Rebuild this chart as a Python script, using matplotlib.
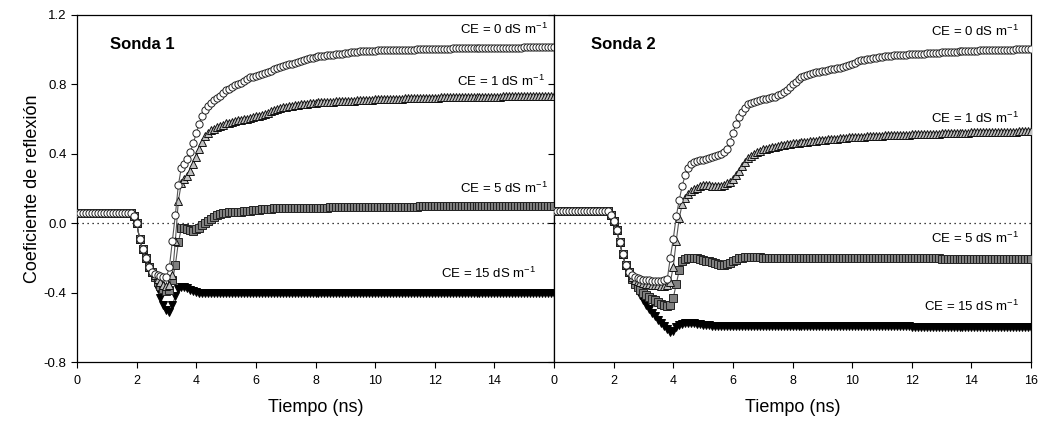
import numpy as np
import matplotlib
matplotlib.use("Agg")
import matplotlib.pyplot as plt

plt.rcParams['font.family'] = ['Liberation Sans', 'DejaVu Sans']
plt.rcParams['mathtext.fontset'] = 'custom'
plt.rcParams['mathtext.rm'] = 'Liberation Sans'
plt.rcParams['mathtext.it'] = 'Liberation Sans:italic'

# sampling grid (ns)
tiempo = np.round(np.arange(0, 16.05, 0.1), 1)

# ---- Sonda 1 ----
s1_ce0 = [
    0.06, 0.06, 0.06, 0.06, 0.06, 0.06, 0.06, 0.06, 0.06, 0.06,
    0.06, 0.06, 0.06, 0.06, 0.06, 0.06, 0.06, 0.06, 0.06, 0.04,
    0.00, -0.09, -0.15, -0.20, -0.25, -0.28, -0.29, -0.30, -0.305, -0.31,
    -0.31, -0.25, -0.10, 0.05, 0.22, 0.32, 0.34, 0.37, 0.41, 0.46,
    0.52, 0.57, 0.62, 0.65, 0.675, 0.695, 0.71, 0.72, 0.735, 0.75,
    0.765, 0.775, 0.785, 0.795, 0.80, 0.81, 0.82, 0.83, 0.84, 0.845,
    0.85, 0.856, 0.862, 0.868, 0.874, 0.88, 0.886, 0.892, 0.898, 0.904,
    0.91, 0.915, 0.92, 0.925, 0.93, 0.935, 0.94, 0.945, 0.95, 0.955,
    0.96, 0.962, 0.964, 0.966, 0.968, 0.970, 0.972, 0.974, 0.976, 0.978,
    0.98, 0.982, 0.984, 0.986, 0.988, 0.99, 0.991, 0.992, 0.993, 0.994,
    0.995, 0.996, 0.996, 0.997, 0.997, 0.998, 0.998, 0.999, 0.999, 1.0,
    1.0, 1.0, 1.001, 1.001, 1.002, 1.002, 1.003, 1.003, 1.004, 1.004,
    1.005, 1.005, 1.005, 1.006, 1.006, 1.006, 1.007, 1.007, 1.007, 1.008,
    1.008, 1.008, 1.008, 1.009, 1.009, 1.009, 1.009, 1.010, 1.010, 1.010,
    1.010, 1.011, 1.011, 1.011, 1.011, 1.012, 1.012, 1.012, 1.012, 1.012,
    1.013, 1.013, 1.013, 1.013, 1.014, 1.014, 1.014, 1.014, 1.015, 1.015,
    1.015]
s1_ce1 = [
    0.06, 0.06, 0.06, 0.06, 0.06, 0.06, 0.06, 0.06, 0.06, 0.06,
    0.06, 0.06, 0.06, 0.06, 0.06, 0.06, 0.06, 0.06, 0.06, 0.04,
    0.00, -0.09, -0.15, -0.20, -0.25, -0.28, -0.30, -0.32, -0.34, -0.355,
    -0.36, -0.355, -0.30, -0.10, 0.13, 0.23, 0.255, 0.27, 0.30, 0.34,
    0.38, 0.43, 0.47, 0.50, 0.52, 0.535, 0.545, 0.553, 0.56, 0.568,
    0.575, 0.58, 0.584, 0.588, 0.592, 0.595, 0.60, 0.603, 0.606, 0.61,
    0.615, 0.62, 0.626, 0.632, 0.638, 0.644, 0.65, 0.656, 0.662, 0.667,
    0.671, 0.674, 0.677, 0.68, 0.683, 0.685, 0.687, 0.689, 0.691, 0.693,
    0.695, 0.696, 0.697, 0.698, 0.699, 0.700, 0.701, 0.702, 0.703, 0.704,
    0.705, 0.706, 0.707, 0.707, 0.708, 0.709, 0.710, 0.711, 0.712, 0.712,
    0.713, 0.714, 0.714, 0.715, 0.715, 0.716, 0.716, 0.717, 0.717, 0.718,
    0.719, 0.719, 0.720, 0.720, 0.721, 0.721, 0.722, 0.722, 0.723, 0.723,
    0.724, 0.724, 0.725, 0.725, 0.725, 0.726, 0.726, 0.726, 0.727, 0.727,
    0.727, 0.728, 0.728, 0.728, 0.728, 0.729, 0.729, 0.729, 0.729, 0.730,
    0.730, 0.730, 0.730, 0.731, 0.731, 0.731, 0.731, 0.731, 0.732, 0.732,
    0.732, 0.732, 0.732, 0.732, 0.733, 0.733, 0.733, 0.733, 0.733, 0.733,
    0.733]
s1_ce5 = [
    0.06, 0.06, 0.06, 0.06, 0.06, 0.06, 0.06, 0.06, 0.06, 0.06,
    0.06, 0.06, 0.06, 0.06, 0.06, 0.06, 0.06, 0.06, 0.06, 0.04,
    0.00, -0.09, -0.15, -0.20, -0.25, -0.28, -0.31, -0.34, -0.36, -0.38,
    -0.39, -0.385, -0.33, -0.24, -0.11, -0.03, -0.03, -0.035, -0.04, -0.045,
    -0.035, -0.025, -0.01, 0.00, 0.015, 0.025, 0.035, 0.045, 0.055, 0.06,
    0.060, 0.062, 0.064, 0.065, 0.066, 0.067, 0.068, 0.070, 0.072, 0.074,
    0.076, 0.078, 0.080, 0.082, 0.083, 0.084, 0.085, 0.086, 0.087, 0.087,
    0.088, 0.088, 0.088, 0.089, 0.089, 0.089, 0.089, 0.090, 0.090, 0.090,
    0.090, 0.090, 0.090, 0.090, 0.090, 0.091, 0.091, 0.091, 0.091, 0.091,
    0.092, 0.092, 0.092, 0.092, 0.092, 0.093, 0.093, 0.093, 0.093, 0.093,
    0.094, 0.094, 0.094, 0.094, 0.094, 0.095, 0.095, 0.095, 0.095, 0.095,
    0.096, 0.096, 0.096, 0.096, 0.096, 0.097, 0.097, 0.097, 0.097, 0.097,
    0.097, 0.098, 0.098, 0.098, 0.098, 0.098, 0.098, 0.098, 0.099, 0.099,
    0.099, 0.099, 0.099, 0.099, 0.099, 0.099, 0.100, 0.100, 0.100, 0.100,
    0.100, 0.100, 0.100, 0.100, 0.100, 0.100, 0.100, 0.100, 0.100, 0.100,
    0.100, 0.100, 0.100, 0.100, 0.100, 0.100, 0.100, 0.100, 0.100, 0.100,
    0.100]
s1_ce15 = [
    0.06, 0.06, 0.06, 0.06, 0.06, 0.06, 0.06, 0.06, 0.06, 0.06,
    0.06, 0.06, 0.06, 0.06, 0.06, 0.06, 0.06, 0.06, 0.06, 0.04,
    0.00, -0.09, -0.15, -0.20, -0.25, -0.29, -0.33, -0.38, -0.43, -0.47,
    -0.50, -0.51, -0.47, -0.42, -0.38, -0.37, -0.37, -0.375, -0.385, -0.39,
    -0.395, -0.40, -0.40, -0.40, -0.40, -0.40, -0.40, -0.40, -0.40, -0.40,
    -0.40, -0.40, -0.40, -0.40, -0.40, -0.40, -0.40, -0.40, -0.40, -0.40,
    -0.40, -0.40, -0.40, -0.40, -0.40, -0.40, -0.40, -0.40, -0.40, -0.40,
    -0.40, -0.40, -0.40, -0.40, -0.40, -0.40, -0.40, -0.40, -0.40, -0.40,
    -0.40, -0.40, -0.40, -0.40, -0.40, -0.40, -0.40, -0.40, -0.40, -0.40,
    -0.40, -0.40, -0.40, -0.40, -0.40, -0.40, -0.40, -0.40, -0.40, -0.40,
    -0.40, -0.40, -0.40, -0.40, -0.40, -0.40, -0.40, -0.40, -0.40, -0.40,
    -0.40, -0.40, -0.40, -0.40, -0.40, -0.402, -0.402, -0.402, -0.402, -0.402,
    -0.402, -0.402, -0.402, -0.402, -0.402, -0.403, -0.403, -0.403, -0.403, -0.403,
    -0.403, -0.403, -0.403, -0.403, -0.403, -0.404, -0.404, -0.404, -0.404, -0.404,
    -0.404, -0.404, -0.404, -0.404, -0.404, -0.405, -0.405, -0.405, -0.405, -0.405,
    -0.405, -0.405, -0.405, -0.405, -0.405, -0.405, -0.405, -0.405, -0.405, -0.405,
    -0.405]

# ---- Sonda 2 ----
s2_ce0 = [
    0.07, 0.07, 0.07, 0.07, 0.07, 0.07, 0.07, 0.07, 0.07, 0.07,
    0.07, 0.07, 0.07, 0.07, 0.07, 0.07, 0.07, 0.07, 0.07, 0.05,
    0.01, -0.04, -0.11, -0.18, -0.24, -0.28, -0.30, -0.31, -0.315, -0.32,
    -0.325, -0.327, -0.33, -0.332, -0.334, -0.335, -0.335, -0.33, -0.32, -0.20,
    -0.09, 0.04, 0.135, 0.215, 0.28, 0.32, 0.34, 0.35, 0.357, 0.362,
    0.367, 0.372, 0.377, 0.382, 0.388, 0.395, 0.40, 0.41, 0.43, 0.47,
    0.52, 0.57, 0.61, 0.64, 0.665, 0.685, 0.695, 0.70, 0.705, 0.71,
    0.715, 0.718, 0.722, 0.725, 0.73, 0.737, 0.745, 0.757, 0.77, 0.785,
    0.80, 0.815, 0.83, 0.84, 0.85, 0.855, 0.86, 0.865, 0.87, 0.873,
    0.876, 0.88, 0.883, 0.887, 0.89, 0.893, 0.897, 0.902, 0.907, 0.912,
    0.918, 0.925, 0.932, 0.938, 0.943, 0.946, 0.949, 0.952, 0.955, 0.958,
    0.96, 0.962, 0.964, 0.966, 0.968, 0.969, 0.970, 0.971, 0.972, 0.973,
    0.974, 0.975, 0.976, 0.977, 0.978, 0.979, 0.980, 0.981, 0.982, 0.983,
    0.984, 0.985, 0.986, 0.987, 0.988, 0.989, 0.990, 0.991, 0.992, 0.993,
    0.994, 0.995, 0.995, 0.996, 0.996, 0.997, 0.997, 0.998, 0.998, 0.999,
    0.999, 1.0, 1.0, 1.001, 1.001, 1.002, 1.002, 1.003, 1.003, 1.004,
    1.004]
s2_ce1 = [
    0.07, 0.07, 0.07, 0.07, 0.07, 0.07, 0.07, 0.07, 0.07, 0.07,
    0.07, 0.07, 0.07, 0.07, 0.07, 0.07, 0.07, 0.07, 0.07, 0.05,
    0.01, -0.04, -0.11, -0.18, -0.24, -0.28, -0.31, -0.325, -0.335, -0.34,
    -0.345, -0.35, -0.352, -0.355, -0.357, -0.358, -0.36, -0.36, -0.355, -0.34,
    -0.25, -0.10, 0.03, 0.11, 0.145, 0.17, 0.185, 0.195, 0.205, 0.213,
    0.218, 0.22, 0.218, 0.215, 0.213, 0.212, 0.214, 0.22, 0.23, 0.24,
    0.255, 0.275, 0.30, 0.33, 0.355, 0.375, 0.39, 0.40, 0.41, 0.418,
    0.425, 0.429, 0.433, 0.437, 0.441, 0.445, 0.448, 0.451, 0.454, 0.457,
    0.46, 0.462, 0.464, 0.466, 0.468, 0.47, 0.472, 0.474, 0.476, 0.478,
    0.48, 0.482, 0.483, 0.485, 0.486, 0.488, 0.489, 0.491, 0.492, 0.494,
    0.495, 0.496, 0.497, 0.498, 0.499, 0.50, 0.501, 0.502, 0.503, 0.504,
    0.505, 0.506, 0.506, 0.507, 0.508, 0.508, 0.509, 0.510, 0.510, 0.511,
    0.512, 0.513, 0.513, 0.514, 0.514, 0.515, 0.515, 0.516, 0.516, 0.517,
    0.518, 0.518, 0.519, 0.519, 0.520, 0.520, 0.521, 0.521, 0.522, 0.522,
    0.523, 0.523, 0.524, 0.524, 0.524, 0.525, 0.525, 0.525, 0.526, 0.526,
    0.527, 0.527, 0.527, 0.528, 0.528, 0.528, 0.529, 0.529, 0.529, 0.530,
    0.530]
s2_ce5 = [
    0.07, 0.07, 0.07, 0.07, 0.07, 0.07, 0.07, 0.07, 0.07, 0.07,
    0.07, 0.07, 0.07, 0.07, 0.07, 0.07, 0.07, 0.07, 0.07, 0.05,
    0.01, -0.04, -0.11, -0.18, -0.24, -0.28, -0.32, -0.35, -0.37, -0.385,
    -0.40, -0.415, -0.425, -0.435, -0.445, -0.455, -0.465, -0.472, -0.478, -0.47,
    -0.43, -0.35, -0.27, -0.22, -0.205, -0.20, -0.198, -0.198, -0.20, -0.205,
    -0.21, -0.215, -0.22, -0.225, -0.23, -0.235, -0.238, -0.24, -0.235, -0.228,
    -0.22, -0.21, -0.203, -0.198, -0.195, -0.193, -0.192, -0.193, -0.195, -0.197,
    -0.198, -0.198, -0.199, -0.199, -0.199, -0.200, -0.200, -0.200, -0.200, -0.200,
    -0.200, -0.200, -0.200, -0.200, -0.200, -0.200, -0.200, -0.200, -0.200, -0.200,
    -0.200, -0.200, -0.200, -0.200, -0.200, -0.200, -0.200, -0.200, -0.200, -0.200,
    -0.201, -0.201, -0.201, -0.201, -0.201, -0.201, -0.201, -0.201, -0.201, -0.201,
    -0.202, -0.202, -0.202, -0.202, -0.202, -0.202, -0.202, -0.202, -0.202, -0.202,
    -0.203, -0.203, -0.203, -0.203, -0.203, -0.203, -0.203, -0.203, -0.203, -0.203,
    -0.204, -0.204, -0.204, -0.204, -0.204, -0.204, -0.204, -0.204, -0.204, -0.204,
    -0.204, -0.204, -0.205, -0.205, -0.205, -0.205, -0.205, -0.205, -0.205, -0.205,
    -0.205, -0.205, -0.205, -0.205, -0.205, -0.205, -0.205, -0.205, -0.205, -0.205,
    -0.205]
s2_ce15 = [
    0.07, 0.07, 0.07, 0.07, 0.07, 0.07, 0.07, 0.07, 0.07, 0.07,
    0.07, 0.07, 0.07, 0.07, 0.07, 0.07, 0.07, 0.07, 0.07, 0.05,
    0.01, -0.04, -0.11, -0.18, -0.24, -0.28, -0.33, -0.36, -0.39, -0.415,
    -0.44, -0.47, -0.495, -0.515, -0.535, -0.555, -0.575, -0.59, -0.61, -0.625,
    -0.62, -0.60, -0.585, -0.58, -0.578, -0.577, -0.577, -0.578, -0.58, -0.582,
    -0.584, -0.586, -0.588, -0.59, -0.59, -0.59, -0.59, -0.59, -0.59, -0.59,
    -0.59, -0.59, -0.59, -0.59, -0.59, -0.59, -0.59, -0.59, -0.59, -0.59,
    -0.59, -0.59, -0.59, -0.59, -0.59, -0.591, -0.591, -0.591, -0.591, -0.591,
    -0.592, -0.592, -0.592, -0.592, -0.592, -0.592, -0.592, -0.592, -0.592, -0.592,
    -0.593, -0.593, -0.593, -0.593, -0.593, -0.593, -0.593, -0.593, -0.593, -0.593,
    -0.594, -0.594, -0.594, -0.594, -0.594, -0.594, -0.594, -0.594, -0.594, -0.594,
    -0.595, -0.595, -0.595, -0.595, -0.595, -0.595, -0.595, -0.595, -0.595, -0.595,
    -0.596, -0.596, -0.596, -0.596, -0.596, -0.596, -0.596, -0.596, -0.596, -0.596,
    -0.597, -0.597, -0.597, -0.597, -0.597, -0.597, -0.597, -0.597, -0.597, -0.597,
    -0.598, -0.598, -0.598, -0.598, -0.598, -0.598, -0.598, -0.598, -0.598, -0.598,
    -0.599, -0.599, -0.599, -0.599, -0.599, -0.600, -0.600, -0.600, -0.600, -0.600,
    -0.600]

etiquetas = ['CE = 0 dS m$^{-1}$', 'CE = 1 dS m$^{-1}$',
             'CE = 5 dS m$^{-1}$', 'CE = 15 dS m$^{-1}$']
# label anchor (x right edge, y centre) per panel
pos_etq1 = [(15.8, 1.115), (15.7, 0.815), (15.8, 0.20), (15.4, -0.29)]
pos_etq2 = [(15.6, 1.105), (15.6, 0.605), (15.6, -0.09), (15.6, -0.48)]

estilos = [
    dict(marker='o', mfc='white', mec='#222222'),
    dict(marker='^', mfc='#c0c0c0', mec='#111111'),
    dict(marker='s', mfc='#808080', mec='#222222'),
    dict(marker='v', mfc='black', mec='black'),
]

fig = plt.figure(figsize=(10.42, 4.26), dpi=100)
ax1 = fig.add_axes([0.0739, 0.1502, 0.4578, 0.8146])
ax2 = fig.add_axes([0.5317, 0.1502, 0.4578, 0.8146])

paneles = [
    (ax1, [s1_ce0, s1_ce1, s1_ce5, s1_ce15], pos_etq1, 'Sonda 1', 1.1),
    (ax2, [s2_ce0, s2_ce1, s2_ce5, s2_ce15], pos_etq2, 'Sonda 2', 1.25),
]

for ax, series, pos, titulo, xt in paneles:
    ax.axhline(0, color='black', lw=0.9, ls=(0, (1, 3)), zorder=1)
    # draw from lowest to highest so the open circles sit on top
    for y, est in reversed(list(zip(series, estilos))):
        ax.plot(tiempo, y, color='#555555', lw=0.8, ms=5.2, mew=0.7,
                zorder=3, **est)
    for txt, (x, y) in zip(etiquetas, pos):
        ax.text(x, y, txt, ha='right', va='center', fontsize=9.5)
    ax.text(xt, 1.03, titulo, fontsize=12, fontweight='bold',
            ha='left', va='center')
    ax.set_xlim(0, 16)
    ax.set_ylim(-0.8, 1.2)
    ax.set_yticks([-0.8, -0.4, 0.0, 0.4, 0.8, 1.2])
    ax.tick_params(direction='out', length=4, width=0.8)
    ax.tick_params(axis='y', labelsize=9.5)
    ax.tick_params(axis='x', labelsize=9, pad=5)
    ax.set_xlabel('Tiempo (ns)', fontsize=13, labelpad=9)
    for s in ax.spines.values():
        s.set_linewidth(0.9)

ax1.set_xticks(np.arange(0, 16, 2))
ax1.set_yticklabels(['-0.8', '-0.4', '0.0', '0.4', '0.8', '1.2'])
ax1.set_ylabel('Coeficiente de reflexión', fontsize=13, labelpad=2)
ax2.set_xticks(np.arange(0, 17, 2))
ax2.set_yticklabels([])

fig.savefig('out.png', dpi=100)
